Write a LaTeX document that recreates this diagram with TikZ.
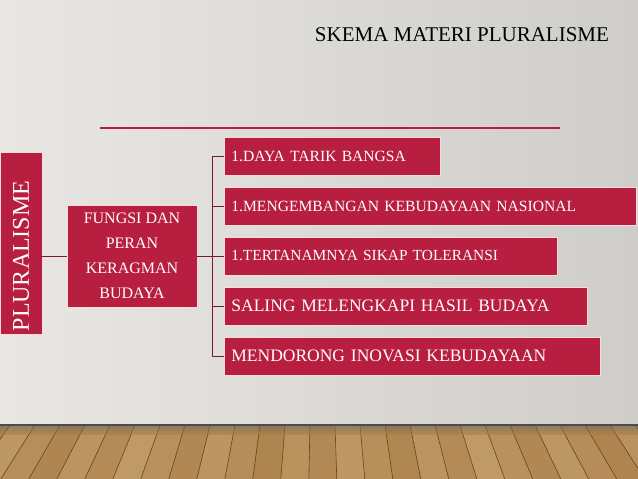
\documentclass[tikz,border=0pt]{standalone}
\usepackage{fontspec}
\setmainfont{Liberation Serif}
\definecolor{crimson}{RGB}{184,30,64}
\definecolor{linkred}{RGB}{120,28,44}
\definecolor{wallL}{RGB}{233,231,227}
\definecolor{wallR}{RGB}{206,205,201}
\definecolor{woodA}{RGB}{168,124,70}
\definecolor{woodB}{RGB}{198,162,112}
\definecolor{woodLine}{RGB}{100,68,34}
\begin{document}
\begin{tikzpicture}[x=1pt, y=-1pt,
  redbox/.style={fill=crimson, draw=pink!60!white, line width=0.8pt, text=white,
    inner sep=0pt, font=\fontsize{16}{25}\selectfont},
  itembox/.style={redbox, anchor=west, minimum height=38, align=left, text width=#1-14, inner xsep=7},
  link/.style={draw=linkred, line width=0.9pt}]
\useasboundingbox (0,0) rectangle (638,479);
% wall and floor
\shade[left color=wallL, right color=wallR] (0,0) rectangle (638,425);
\fill[woodA] (0,425) rectangle (638,479);
\foreach \t [count=\i] in {-40,-15,...,690} {
  \pgfmathsetmacro{\mix}{mod(\i*37,60)+20}
  \fill[woodB!\mix!woodA] (\t,425) -- (\t+25,425) -- ({320+(\t+25-320)*1.12},479) -- ({320+(\t-320)*1.12},479) -- cycle;
  \draw[woodLine, line width=0.6pt] (\t,425) -- ({320+(\t-320)*1.12},479);
}
\shade[top color=black!60, bottom color=woodA, opacity=0.5] (0,425) rectangle (638,434);
\draw[black!70, line width=1.5pt] (0,425) -- (638,425);
% title
\node (title) at (462,35) {\fontsize{21}{24}\selectfont SKEMA MATERI PLURALISME};
\draw[crimson, line width=1.6pt] (100,128) -- (560,128);
% nodes
\node[redbox, minimum width=42, minimum height=182] (plural) at (21,243)
  {\rotatebox{90}{\fontsize{24}{24}\selectfont PLURALISME\hspace{26pt}}};
\node[redbox, minimum width=130, minimum height=102, align=center] (fungsi) at (132,256)
  {FUNGSI DAN\\PERAN\\KERAGMAN\\BUDAYA};
\node[itembox=216, font=\fontsize{15.6}{18}\selectfont] (b1) at (224,156) {1.DAYA TARIK BANGSA};
\node[itembox=412, font=\fontsize{15.6}{18}\selectfont] (b2) at (224,206) {1.MENGEMBANGAN KEBUDAYAAN NASIONAL};
\node[itembox=333, font=\fontsize{15.4}{18}\selectfont] (b3) at (224,256) {1.TERTANAMNYA SIKAP TOLERANSI};
\node[itembox=363, font=\fontsize{17.5}{20}\selectfont] (b4) at (224,306) {SALING MELENGKAPI HASIL BUDAYA};
\node[itembox=376, font=\fontsize{17.5}{20}\selectfont] (b5) at (224,356) {MENDORONG INOVASI KEBUDAYAAN};
\coordinate (spine) at (212,0);
% connectors
\draw[link] (plural.east |- fungsi.west) -- (fungsi.west);
\draw[link] (fungsi.east) -- (fungsi.east -| spine);
\draw[link] (b1.west) -- (b1.west -| spine) -- (b5.west -| spine) -- (b5.west);
\foreach \b in {b2,b3,b4}
  \draw[link] (\b.west) -- (\b.west -| spine);
\end{tikzpicture}
\end{document}
